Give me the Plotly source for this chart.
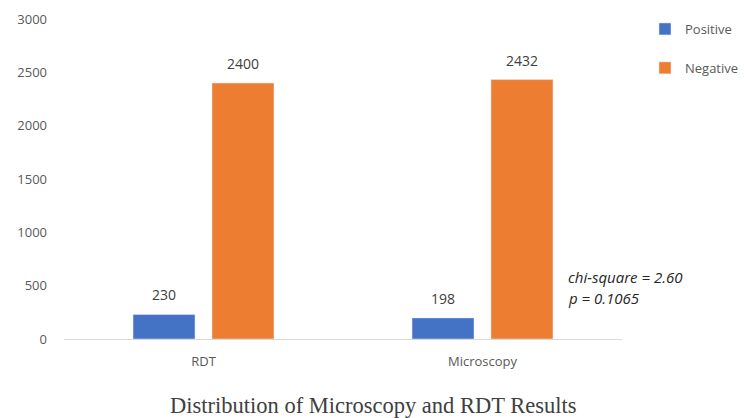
import plotly.graph_objects as go

categories = ["RDT", "Microscopy"]
positive = [230, 198]
negative = [2400, 2432]
series_names = ["Positive", "Negative"]
y_ticks = [0, 500, 1000, 1500, 2000, 2500, 3000]
stats_lines = ["chi-square = 2.60", "p = 0.1065"]
title_text = "Distribution of Microscopy and RDT Results"

font_family = "Open Sans, Liberation Sans, sans-serif"
colors = ["#4472C4", "#ED7D31"]

W, H = 744, 418
L, T, R, B = 64, 19, 122, 79
PW, PH = W - L - R, H - T - B
BARGAP, GROUPGAP = 0.434, 0.215

def px_x(x):
    return (x - L) / PW

def px_y(y):
    return (H - B - y) / PH

fig = go.Figure()
for name, vals, color in zip(series_names, [positive, negative], colors):
    fig.add_trace(go.Bar(
        x=categories, y=vals, name=name, marker_color=color,
        cliponaxis=False, legendgroup=name, hoverinfo="skip",
    ))

# data labels above bars
cat_px = PW / len(categories)
slot_px = cat_px * (1 - BARGAP) / len(series_names)
for si, vals in enumerate([positive, negative]):
    shift = (si - (len(series_names) - 1) / 2) * slot_px
    for c, v in zip(categories, vals):
        fig.add_annotation(x=c, y=v, xref="x", yref="y", text=str(v),
                           showarrow=False, xshift=shift, yshift=8,
                           yanchor="bottom",
                           font=dict(size=14, color="#404040", family=font_family))

fig.update_layout(
    width=W, height=H,
    margin=dict(l=L, r=R, t=T, b=B, autoexpand=False),
    paper_bgcolor="white", plot_bgcolor="white",
    barmode="group", bargap=BARGAP, bargroupgap=GROUPGAP,
    font=dict(family=font_family, color="#595959", size=13),
    showlegend=True,
    legend=dict(x=px_x(645), y=px_y(14), xanchor="left", yanchor="top",
                font=dict(size=13, color="#595959"),
                tracegroupgap=19, traceorder="grouped",
                itemwidth=30),
    xaxis=dict(showgrid=False, showline=True, linecolor="#D9D9D9", linewidth=1,
               ticks="", ticklabelstandoff=10,
               tickfont=dict(size=13, color="#595959")),
    yaxis=dict(range=[0, 3000], tickvals=y_ticks, showgrid=False,
               zeroline=False, showline=False, ticks="", ticklabelstandoff=16,
               tickfont=dict(size=13, color="#595959")),
)

for line, yc in zip(stats_lines, [277, 298]):
    fig.add_annotation(xref="paper", yref="paper", x=px_x(566), y=px_y(yc),
                       xanchor="left", yanchor="middle", showarrow=False,
                       text="<i>" + line + "</i>",
                       font=dict(size=15, color="#262626", family=font_family))

fig.add_annotation(xref="paper", yref="paper", x=px_x(373), y=px_y(405),
                   xanchor="center", yanchor="middle", showarrow=False,
                   text=title_text,
                   font=dict(size=22.5, color="#404040",
                             family="Liberation Serif, DejaVu Serif, serif"))

fig.write_html("out.html", config={"displayModeBar": False},
               post_script="document.body.style.margin='0';document.body.style.overflow='hidden';")
